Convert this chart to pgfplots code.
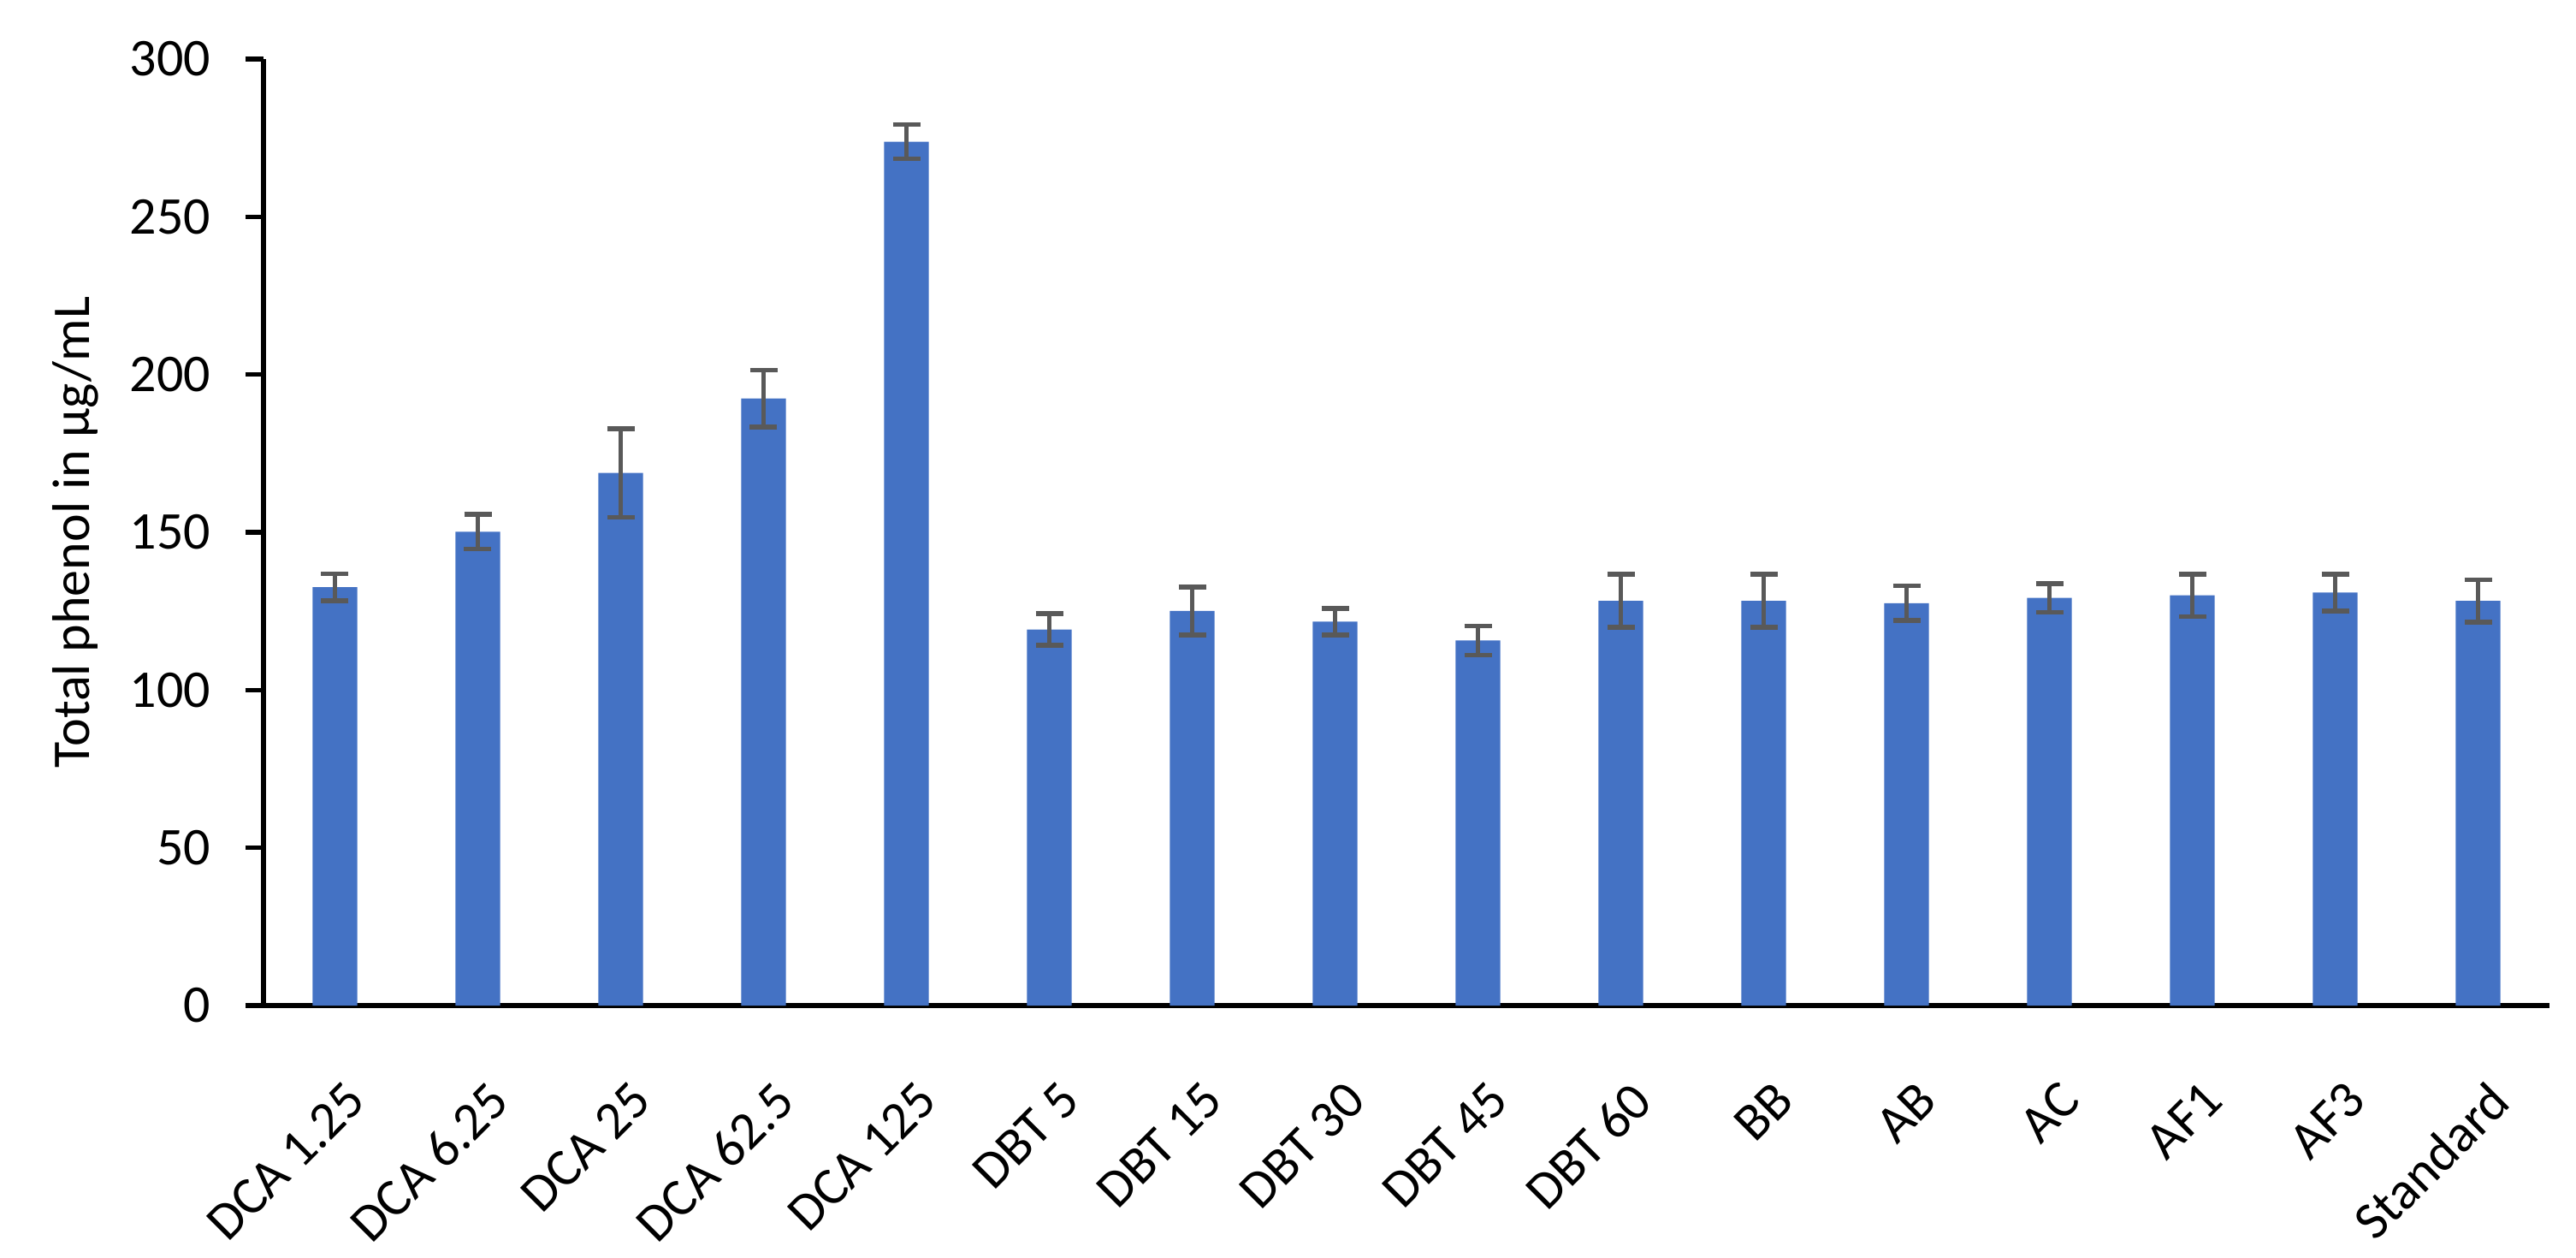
\documentclass[border=0pt]{standalone}
\usepackage{pgfplots}
\pgfplotsset{compat=1.18}
\usepackage{fontspec}
\setmainfont{Carlito}
\definecolor{barblue}{HTML}{4472C4}
\definecolor{errgray}{HTML}{595959}
\begin{document}
\fontsize{15.5}{18}\selectfont
\begin{tikzpicture}
\begin{axis}[
  scale only axis,
  width=668pt, height=276.5pt,
  anchor=south west, at={(0pt,0pt)},
  xmin=-0.5, xmax=15.5,
  ymin=0, ymax=300,
  ytick={0,50,100,150,200,250,300},
  xtick={0,...,15},
  xticklabels={DCA 1.25,DCA 6.25,DCA 25,DCA 62.5,DCA 125,DBT 5,DBT 15,DBT 30,DBT 45,DBT 60,BB,AB,AC,AF1,AF3,Standard},
  axis lines*=left,
  axis line style={-, line width=1.4pt, black},
  x axis line style={-},
  y axis line style={-},
  tick align=outside,
  major tick length=5.25pt,
  xtick style={draw=none},
  ytick style={line width=1.4pt, black},
  /pgf/number format/assume math mode=true,
  tick label style={font=\fontsize{15.5}{18}\selectfont},
  yticklabel style={anchor=east, inner sep=0pt, xshift=-10pt},
  xticklabel style={inner sep=0pt, xshift=2.5pt, yshift=-16pt, rotate=45, anchor=north east},
  ylabel={Total phenol in µg/mL},
  ylabel style={at={(axis description cs:-0.0823,0.5)}, anchor=center, rotate=0, font=\fontsize{15.5}{18}\selectfont},
  clip=false,
]
\addplot[ybar, bar width=13.1pt, fill=barblue, draw=none,
  error bars/.cd, y dir=both, y explicit,
  error bar style={line width=1.4pt, color=errgray},
  error mark options={line width=1.4pt, color=errgray, mark size=4pt, rotate=90}]
  coordinates {
  (0,132.6) +- (0,4.3)
  (1,150.2) +- (0,5.5)
  (2,168.8) +- (0,14.0)
  (3,192.4) +- (0,9.0)
  (4,273.8) +- (0,5.4)
  (5,119.2) +- (0,5.0)
  (6,125.1) +- (0,7.6)
  (7,121.7) +- (0,4.2)
  (8,115.7) +- (0,4.6)
  (9,128.3) +- (0,8.4)
  (10,128.3) +- (0,8.4)
  (11,127.5) +- (0,5.5)
  (12,129.2) +- (0,4.6)
  (13,130.0) +- (0,6.7)
  (14,130.9) +- (0,5.8)
  (15,128.3) +- (0,6.7)
  };
\end{axis}
\path (-77pt,-73.5pt) rectangle (675.75pt,293.75pt);
\end{tikzpicture}
\end{document}
